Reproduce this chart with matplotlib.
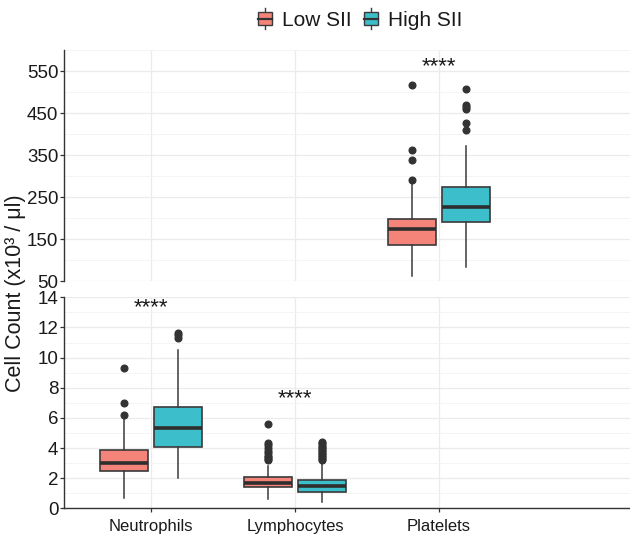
import matplotlib
matplotlib.use("Agg")
import matplotlib.pyplot as plt
from matplotlib.legend_handler import HandlerBase
from matplotlib.patches import Rectangle
from matplotlib.lines import Line2D

plt.rcParams['font.family'] = ['Liberation Sans', 'DejaVu Sans']

# ---------------- data ----------------
categories = ["Neutrophils", "Lymphocytes", "Platelets"]
groups = ["Low SII", "High SII"]
colors = ["#F4847A", "#3CBFCB"]

# box statistics: [whislo, q1, med, q3, whishi]
neut_low = [0.7, 2.5, 3.0, 3.9, 6.1]
neut_high = [2.0, 4.1, 5.3, 6.7, 10.5]
lymph_low = [0.6, 1.4, 1.7, 2.1, 2.8]
lymph_high = [0.4, 1.1, 1.5, 1.9, 3.05]
plt_low = [62, 136, 173, 197, 283]
plt_high = [84, 190, 226, 274, 371]

neut_low_out = [6.2, 7.0, 9.3]
neut_high_out = [11.3, 11.5, 11.6]
lymph_low_out = [3.2, 3.3, 3.4, 3.5, 3.7, 3.8, 4.0, 4.2, 4.3, 5.6]
lymph_high_out = [3.2, 3.3, 3.4, 3.5, 3.6, 3.7, 3.8, 3.9, 4.0, 4.1, 4.2, 4.3, 4.4]
plt_low_out = [290, 337, 363, 517]
plt_high_out = [409, 427, 460, 465, 470, 506]

bottom_stats = [(1, 0, neut_low, neut_low_out), (1, 1, neut_high, neut_high_out),
                (2, 0, lymph_low, lymph_low_out), (2, 1, lymph_high, lymph_high_out)]
top_stats = [(3, 0, plt_low, plt_low_out), (3, 1, plt_high, plt_high_out)]

signif_labels = ["****", "****", "****"]
signif_cat = [1, 2, 3]
signif_y = [13.3, 7.3, 560]

top_ticks = [50, 150, 250, 350, 450, 550]
bottom_ticks = [0, 2, 4, 6, 8, 10, 12, 14]

# ---------------- figure ----------------
W, H = 630, 536
fig = plt.figure(figsize=(W / 100, H / 100), dpi=100)

left = 64 / W
ax_top = fig.add_axes([left, 1 - 281 / H, 1 - left, (281 - 50) / H])
ax_bot = fig.add_axes([left, 1 - 508.3 / H, 1 - left, (508.3 - 297.3) / H])

edge = "#3a3a3a"
offset = 0.1875
bw = 0.335


def draw(ax, stats):
    for cat, g, s, out in stats:
        st = dict(whislo=s[0], q1=s[1], med=s[2], q3=s[3], whishi=s[4], fliers=out)
        ax.bxp([st], positions=[cat + (offset if g == 1 else -offset)], widths=bw,
               patch_artist=True, showcaps=False,
               boxprops=dict(facecolor=colors[g], edgecolor=edge, linewidth=1.2),
               medianprops=dict(color="#2e2e2e", linewidth=2.6),
               whiskerprops=dict(color=edge, linewidth=1.1),
               flierprops=dict(marker='o', markersize=4.8, markerfacecolor="#333333",
                               markeredgecolor="#333333"),
               manage_ticks=False, zorder=3)


draw(ax_bot, bottom_stats)
draw(ax_top, top_stats)

xlim = (0.396, 4.326)
for ax in (ax_top, ax_bot):
    ax.set_xlim(*xlim)
    ax.set_facecolor("white")
    for sp in ("top", "right"):
        ax.spines[sp].set_visible(False)
    ax.spines["left"].set_color("#333333")
    ax.spines["left"].set_linewidth(1.0)
    ax.set_xticks([1, 2, 3])
    ax.set_xticks([], minor=True)
    ax.grid(True, which="major", color="#EBEBEB", linewidth=0.9, zorder=0)
    ax.grid(True, which="minor", axis="y", color="#F3F3F3", linewidth=0.6, zorder=0)
    ax.set_axisbelow(True)
    ax.tick_params(axis="y", which="major", length=3, width=0.9, color="#333333",
                   labelsize=13.5, labelcolor="#1a1a1a", pad=1)
    ax.tick_params(axis="y", which="minor", length=0)

ax_top.set_ylim(50, 600)
ax_top.set_yticks(top_ticks)
ax_top.set_yticks([100, 200, 300, 400, 500, 600], minor=True)
ax_top.spines["bottom"].set_visible(False)
ax_top.tick_params(axis="x", length=0, labelbottom=False)

ax_bot.set_ylim(0, 14)
ax_bot.set_yticks(bottom_ticks)
ax_bot.set_yticks([1, 3, 5, 7, 9, 11, 13], minor=True)
ax_bot.spines["bottom"].set_color("#333333")
ax_bot.spines["bottom"].set_linewidth(1.0)
ax_bot.set_xticklabels(categories)
ax_bot.tick_params(axis="x", length=3, width=0.9, color="#333333",
                   labelsize=12, labelcolor="#1a1a1a", pad=5)

# significance labels
for lab, c, y in zip(signif_labels, signif_cat, signif_y):
    ax = ax_top if y > 14 else ax_bot
    ax.text(c, y, lab, ha="center", va="center", fontsize=16, color="#1a1a1a")

# y label
fig.text(16 / W, 1 - 293 / H, "Cell Count (x10³ / μl)", rotation=90,
         ha="center", va="center", fontsize=15.5, color="#1a1a1a")


# legend with box glyphs
class BoxHandler(HandlerBase):
    def create_artists(self, legend, orig_handle, xdescent, ydescent, width, height,
                       fontsize, trans):
        c = orig_handle.get_facecolor()
        bx0 = xdescent + width * 0.1
        bwid = width * 0.8
        r = Rectangle((bx0, -ydescent + height * 0.1), bwid, height * 0.8,
                      facecolor=c, edgecolor=edge, linewidth=1.0, transform=trans)
        cx = bx0 + bwid / 2
        m = Line2D([bx0, bx0 + bwid], [-ydescent + height * 0.5] * 2, color="#333333",
                   linewidth=1.6, transform=trans)
        w1 = Line2D([cx, cx], [-ydescent - height * 0.15, -ydescent + height * 0.1],
                    color=edge, linewidth=1.0, transform=trans)
        w2 = Line2D([cx, cx], [-ydescent + height * 0.9, -ydescent + height * 1.15],
                    color=edge, linewidth=1.0, transform=trans)
        return [w1, w2, r, m]


handles = [Rectangle((0, 0), 1, 1, facecolor=col) for col in colors]
fig.legend(handles, groups, handler_map={Rectangle: BoxHandler()},
           loc="center", bbox_to_anchor=(359 / W, 1 - 20 / H), ncol=2, frameon=False,
           fontsize=15, handlelength=0.85, handleheight=0.85, handletextpad=0.4,
           columnspacing=0.5, labelcolor="#1a1a1a")

fig.savefig("out.png", dpi=100)
